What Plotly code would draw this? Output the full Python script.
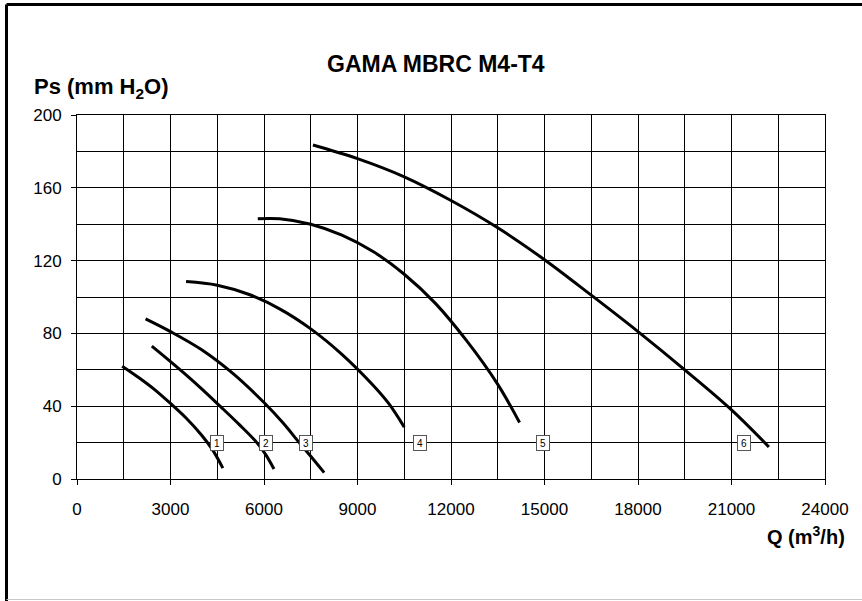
import plotly.graph_objects as go

# Curve data (Q in m3/h, Ps in mm H2O)
q1 = [1450, 2000, 2500, 3000, 3500, 4000, 4350, 4680]
p1 = [62, 55.5, 49, 41.5, 33.5, 24, 16, 6]

q2 = [2400, 3000, 3500, 4000, 4590, 5200, 5770, 6050, 6320]
p2 = [73, 64.5, 57.2, 49.5, 40, 30, 20, 13.5, 5.5]

q3 = [2200, 3000, 4000, 5000, 6000, 6600, 7130, 7500, 7930]
p3 = [88, 81, 71, 58, 42, 31, 20, 12.5, 3.5]

q4 = [3500, 4500, 5500, 6500, 7500, 8500, 9500, 10000, 10500]
p4 = [108.5, 106.5, 101.5, 93.5, 82.5, 68.5, 51.5, 41.5, 28.5]

q5 = [5800, 6500, 7500, 8500, 9500, 10500, 11500, 12500, 13500, 14200]
p5 = [143, 143, 140, 134, 125, 112.5, 96.5, 76, 52, 31]

q6 = [7570, 9000, 10500, 12000, 13500, 15000, 16500, 18000, 19500, 21000, 22200]
p6 = [183.5, 176, 166, 153, 138, 120.5, 101, 81, 60, 38, 17.6]

curves = [(q1, p1), (q2, p2), (q3, p3), (q4, p4), (q5, p5), (q6, p6)]

label_text = ["1", "2", "3", "4", "5", "6"]
label_q = [4480, 6055, 7340, 11010, 14954, 21404]
label_ps = [20, 20, 20, 20, 20, 20]

x_ticks = [0, 3000, 6000, 9000, 12000, 15000, 18000, 21000, 24000]
y_ticks = [0, 40, 80, 120, 160, 200]

FONT = "Liberation Sans, Arial, sans-serif"

fig = go.Figure()
for q, p in curves:
    fig.add_trace(go.Scatter(x=q, y=p, mode="lines",
                             line=dict(color="black", width=3, shape="spline", smoothing=1.0),
                             showlegend=False, hoverinfo="skip"))

for t, q, p in zip(label_text, label_q, label_ps):
    fig.add_annotation(x=q, y=p, xref="x", yref="y", text=t, showarrow=False,
                       font=dict(family=FONT, size=10, color="black"),
                       bgcolor="white", bordercolor="#555555", borderwidth=1, borderpad=1,
                       width=10, height=12)

fig.add_annotation(xref="paper", yref="paper", x=(436 - 77) / 748, y=(479 - 64) / 364,
                   text="<b>GAMA MBRC M4-T4</b>",
                   showarrow=False, font=dict(family=FONT, size=23, color="black"),
                   xanchor="center", yanchor="middle")
fig.add_annotation(xref="paper", yref="paper", x=(32 - 77) / 748, y=(479 - 88) / 364,
                   text="<b>Ps (mm H<sub>2</sub>O)</b>", showarrow=False,
                   font=dict(family=FONT, size=22, color="black"),
                   xanchor="left", yanchor="middle")
fig.add_annotation(xref="paper", yref="paper", x=(847 - 77) / 748, y=(479 - 535) / 364,
                   text="<b>Q (m<sup>3</sup>/h)</b>", showarrow=False,
                   font=dict(family=FONT, size=20, color="black"),
                   xanchor="right", yanchor="middle")

# outer frame
xl = (6.5 - 77) / 748
yt = (479 - 4.5) / 364
yb = (479 - 602) / 364
xr = (870 - 77) / 748
fig.add_shape(type="line", xref="paper", yref="paper", x0=xl, x1=xr, y0=yt, y1=yt,
              line=dict(color="black", width=3))
fig.add_shape(type="line", xref="paper", yref="paper", x0=xl, x1=xl, y0=yt, y1=yb,
              line=dict(color="black", width=3))
fig.add_shape(type="line", xref="paper", yref="paper", x0=xl, x1=xr,
              y0=(479 - 599.5) / 364, y1=(479 - 599.5) / 364,
              line=dict(color="#c8c8c8", width=1))

fig.update_xaxes(range=[0, 24000], tickvals=x_ticks, ticktext=[str(v) for v in x_ticks],
                 showgrid=True, gridcolor="black", gridwidth=1,
                 minor=dict(dtick=1500, tick0=0, showgrid=True, gridcolor="black", gridwidth=1, ticks=""),
                 showline=True, linecolor="black", linewidth=1, mirror=True,
                 ticks="outside", ticklen=5, tickcolor="black", tickwidth=1,
                 ticklabelstandoff=10,
                 tickfont=dict(family=FONT, size=17, color="black"), zeroline=False)
fig.update_yaxes(range=[0, 200], tickvals=y_ticks, ticktext=[str(v) for v in y_ticks],
                 showgrid=True, gridcolor="black", gridwidth=1,
                 minor=dict(dtick=20, tick0=0, showgrid=True, gridcolor="black", gridwidth=1, ticks=""),
                 showline=True, linecolor="black", linewidth=1, mirror=True,
                 ticks="outside", ticklen=5, tickcolor="black", tickwidth=1,
                 ticklabelstandoff=6,
                 tickfont=dict(family=FONT, size=17, color="black"), zeroline=False)

fig.update_layout(width=862, height=601, margin=dict(l=77, r=37, t=115, b=122),
                  paper_bgcolor="white", plot_bgcolor="white", showlegend=False,
                  font=dict(family=FONT, color="black"))

fig.write_html("out.html", config={"displayModeBar": False},
               post_script="document.body.style.margin='0';document.body.style.overflow='hidden';")
